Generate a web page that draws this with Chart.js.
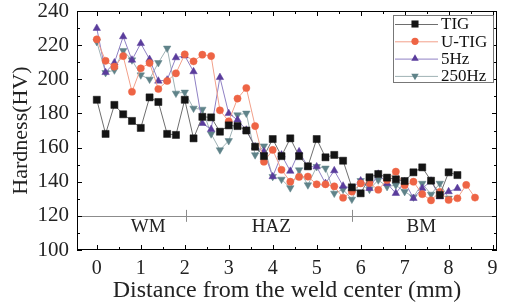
<!DOCTYPE html>
<html>
<head>
<meta charset="utf-8">
<script src="https://cdn.jsdelivr.net/npm/chart.js@4.4.0/dist/chart.umd.min.js"></script>
<style>
html, body { margin: 0; padding: 0; background: #fff; }
canvas { display: block; }
</style>
</head>
<body>
<canvas id="hardnessChart" width="505" height="305"></canvas>
<script>
// distance from weld center (mm), one reading every 0.2 mm
var distance = [0, 0.2, 0.4, 0.6, 0.8, 1.0, 1.2, 1.4, 1.6, 1.8, 2.0, 2.2, 2.4, 2.6, 2.8,
    3.0, 3.2, 3.4, 3.6, 3.8, 4.0, 4.2, 4.4, 4.6, 4.8, 5.0, 5.2, 5.4, 5.6, 5.8,
    6.0, 6.2, 6.4, 6.6, 6.8, 7.0, 7.2, 7.4, 7.6, 7.8, 8.0, 8.2, 8.4, 8.6];

var tigHV = [188, 168, 185, 179.5, 175.6, 171.5, 189.4, 186.7, 168, 167.4, 188, 165.4, 178, 177.7, 169.3,
    173, 172.6, 170, 160.5, 155, 165, 155, 165.4, 155, 149, 165, 154.3, 155.7, 152.3, 136.7,
    133.2, 142.6, 144.5, 142.4, 141.4, 140.4, 145.5, 148.4, 140.6, 132.2, 145.5, 143.9];
var utigHV = [223.4, 210.8, 207.4, 213.6, 192.7, 206.4, 209.5, 194.3, 199, 203.5, 214.6, 210.5, 214.4, 213.6, 181.8,
    175.4, 188.7, 194.9, 172.6, 151.7, 158.6, 147, 140, 142.8, 143, 138.5, 138.5, 137.3, 130.6, 134.2,
    139, 139.2, 135.3, 141, 145.9, 138, 140, 132.7, 129.1, 134, 129.3, 130.3, 138.1, 130.7];
var hz5HV = [229.9, 204, 209.7, 225, 211.3, 221, 211.7, 199, 199.6, 212.7, 213.8, 204.5, 174.2, 170.7, 201.1,
    180, 176.2, 170.3, 160.5, 157.6, 143, 155.7, 146.2, 157.6, 148.8, 148.8, 139, 146.5, 137.5, 136.1,
    140.6, 136.1, 144.5, 139, 133.2, 140, 130.3, 136.1, 140.4, 131.2, 134.2, 136.1];
var hz250HV = [222, 203.9, 205.4, 216.8, 211.3, 202.5, 200, 209.7, 218.2, 191.8, 192.4, 183, 182.4, 168, 158.6,
    164, 179.1, 180.1, 155.7, 160.9, 143, 141.4, 136.4, 146.9, 138.1, 148.8, 147.9, 133.2, 135.5, 129.7,
    140.6, 135.5, 141, 137.1, 138, 134.2, 131, 139, 132.6, 139, 130.3];

var xTicks = [0, 1, 2, 3, 4, 5, 6, 7, 8, 9];
var yTicks = [100, 120, 140, 160, 180, 200, 220, 240];

// weld zones along the 120 HV line
var zoneNames = ['WM', 'HAZ', 'BM'];
var zoneCenters = [1.17, 3.97, 7.38];
var zoneBounds = [2.02, 5.8];
var zoneLineHV = 120;

var serif = "'Liberation Serif', 'Times New Roman', serif";

function pts(values) {
    return values.map(function (v, i) { return { x: distance[i], y: v }; });
}

function series(label, values, lineColor, markColor, style, rot, radius) {
    return {
        label: label,
        data: pts(values),
        borderColor: lineColor,
        borderWidth: 1,
        backgroundColor: markColor,
        pointBackgroundColor: markColor,
        pointBorderColor: markColor,
        pointBorderWidth: 0.5,
        pointStyle: style,
        rotation: rot,
        pointRadius: radius,
        tension: 0
    };
}

function drawMark(ctx, style, rot, r, x, y, color) {
    ctx.save();
    ctx.fillStyle = color;
    ctx.beginPath();
    if (style === 'rect') {
        var s = r * Math.SQRT1_2;
        ctx.rect(x - s, y - s, 2 * s, 2 * s);
    } else if (style === 'circle') {
        ctx.arc(x, y, r, 0, Math.PI * 2);
    } else {
        var dir = rot === 180 ? -1 : 1;
        var w = r * 0.866;
        ctx.moveTo(x, y - dir * r);
        ctx.lineTo(x - w, y + dir * r * 0.5);
        ctx.lineTo(x + w, y + dir * r * 0.5);
        ctx.closePath();
    }
    ctx.fill();
    ctx.restore();
}

var framePlugin = {
    id: 'frame',
    afterDraw: function (chart) {
        var ctx = chart.ctx, a = chart.chartArea;
        var xs = chart.scales.x, ys = chart.scales.y;
        ctx.save();

        // zone line, dividers and labels
        var yz = Math.round(ys.getPixelForValue(zoneLineHV));
        ctx.strokeStyle = '#8c8c8c';
        ctx.lineWidth = 1;
        ctx.beginPath();
        ctx.moveTo(a.left, yz + 0.5);
        ctx.lineTo(a.right, yz + 0.5);
        zoneBounds.forEach(function (b) {
            var xb = Math.round(xs.getPixelForValue(b)) + 0.5;
            ctx.moveTo(xb, ys.getPixelForValue(123.5));
            ctx.lineTo(xb, ys.getPixelForValue(116.5));
        });
        ctx.stroke();
        ctx.fillStyle = '#222';
        ctx.font = '19px ' + serif;
        ctx.textAlign = 'center';
        ctx.textBaseline = 'middle';
        zoneNames.forEach(function (n, i) {
            ctx.fillText(n, xs.getPixelForValue(zoneCenters[i]), ys.getPixelForValue(113.3));
        });

        // frame and inward ticks on all four sides
        ctx.strokeStyle = '#000';
        ctx.lineWidth = 1;
        ctx.strokeRect(a.left + 0.5, a.top + 0.5, a.right - a.left - 1, a.bottom - a.top - 1);
        ctx.beginPath();
        for (var v = 0; v <= 9; v += 0.5) {
            var px = Math.round(xs.getPixelForValue(v)) + 0.5;
            var len = (v % 1 === 0) ? 5 : 3;
            ctx.moveTo(px, a.bottom); ctx.lineTo(px, a.bottom - len);
            ctx.moveTo(px, a.top); ctx.lineTo(px, a.top + len);
        }
        for (var h = 100; h <= 240; h += 10) {
            var py = Math.round(ys.getPixelForValue(h)) + 0.5;
            var l2 = (h % 20 === 0) ? 5 : 3;
            ctx.moveTo(a.left, py); ctx.lineTo(a.left + l2, py);
            ctx.moveTo(a.right, py); ctx.lineTo(a.right - l2, py);
        }
        ctx.stroke();

        // legend box
        var bx = a.right - 104, by = a.top + 4, bw = 100, bh = 67;
        ctx.fillStyle = '#fff';
        ctx.fillRect(bx, by, bw, bh);
        ctx.strokeStyle = '#777';
        ctx.strokeRect(bx + 0.5, by + 0.5, bw, bh);
        ctx.font = '17px ' + serif;
        ctx.textAlign = 'left';
        chart.data.datasets.forEach(function (ds, i) {
            var ly = by + 9 + i * 17.3;
            ctx.strokeStyle = ds.borderColor;
            ctx.beginPath();
            ctx.moveTo(bx + 2, ly + 0.5);
            ctx.lineTo(bx + 45, ly + 0.5);
            ctx.stroke();
            drawMark(ctx, ds.pointStyle, ds.rotation, ds.pointRadius, bx + 22, ly, ds.pointBackgroundColor);
            ctx.fillStyle = '#111';
            ctx.fillText(ds.label, bx + 48, ly + 1);
        });
        ctx.restore();
    }
};

new Chart(document.getElementById('hardnessChart').getContext('2d'), {
    type: 'line',
    data: {
        datasets: [
            series('TIG', tigHV, '#6e6e6e', '#141414', 'rect', 0, 5),
            series('U-TIG', utigHV, '#f2a08a', '#ee6445', 'circle', 0, 3.6),
            series('5Hz', hz5HV, '#8f80c4', '#5a3c9c', 'triangle', 0, 4.3),
            series('250Hz', hz250HV, '#9fb2b5', '#5f8389', 'triangle', 180, 4.3)
        ]
    },
    options: {
        responsive: false,
        animation: false,
        layout: { padding: { top: 11, right: 8, bottom: 0, left: 0 } },
        plugins: { legend: { display: false }, tooltip: { enabled: false } },
        scales: {
            x: {
                type: 'linear',
                min: -0.45,
                max: 9.1,
                afterBuildTicks: function (s) { s.ticks = xTicks.map(function (v) { return { value: v }; }); },
                afterFit: function (s) { s.height = 55; s.paddingLeft = 0; s.paddingRight = 0; },
                grid: { display: false, drawTicks: false },
                border: { display: false },
                ticks: { color: '#222', padding: 7, font: { family: serif, size: 20 } },
                title: { display: true, text: 'Distance from the weld center (mm)', color: '#222',
                    padding: { top: 0, bottom: 0 }, font: { family: serif, size: 24 } }
            },
            y: {
                min: 100,
                max: 240,
                afterBuildTicks: function (s) { s.ticks = yTicks.map(function (v) { return { value: v }; }); },
                afterFit: function (s) { s.width = 77; s.paddingTop = 0; s.paddingBottom = 0; },
                grid: { display: false, drawTicks: false },
                border: { display: false },
                ticks: { color: '#222', padding: 8, font: { family: serif, size: 21 } },
                title: { display: true, text: 'Hardness(HV)', color: '#222',
                    padding: { top: 8, bottom: 0 }, font: { family: serif, size: 22 } }
            }
        }
    },
    plugins: [framePlugin]
});
</script>
</body>
</html>
